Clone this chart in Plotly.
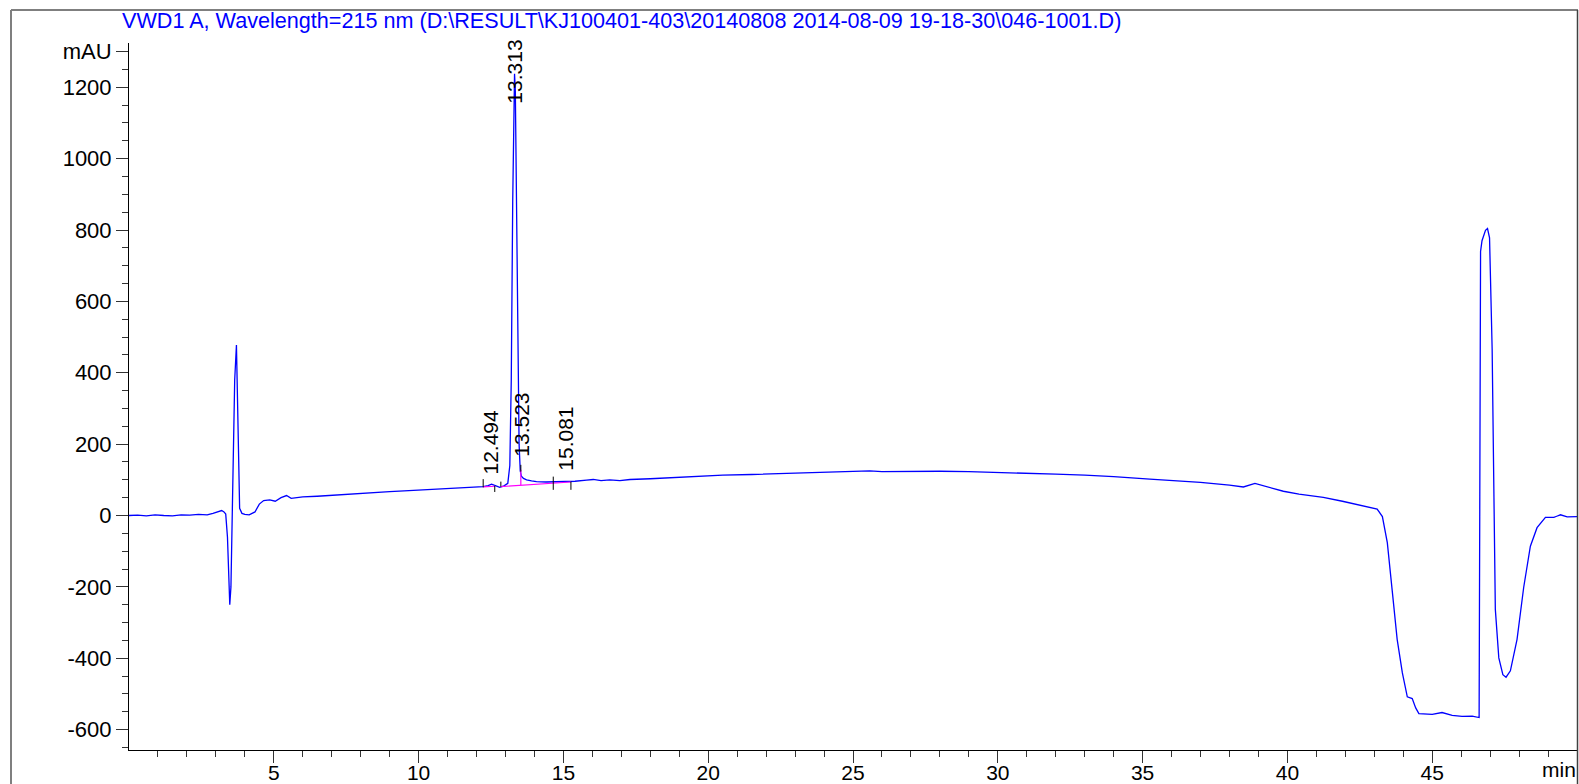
import plotly.graph_objects as go

# ---------------- data ----------------
time_min = [
    0.0, 0.3, 0.6, 0.9, 1.2, 1.5, 1.8, 2.1, 2.4, 2.7, 2.9, 3.1, 3.2, 3.28, 3.34,
    3.40, 3.44, 3.48, 3.52, 3.56, 3.60, 3.65, 3.71, 3.75, 3.78, 3.82, 3.90, 4.00,
    4.15, 4.35, 4.50, 4.65, 4.86, 5.05, 5.25, 5.44, 5.60, 5.80, 6.00, 6.5, 7.0,
    7.5, 8.0, 8.5, 9.0, 9.5, 10.0, 10.5, 11.0, 11.5, 12.0, 12.23, 12.40, 12.52,
    12.65, 12.80, 12.95, 13.08, 13.15, 13.20, 13.25, 13.29, 13.313, 13.34, 13.38,
    13.43, 13.47, 13.51, 13.55, 13.62, 13.73, 13.90, 14.07, 14.40, 14.65, 15.00,
    15.40, 15.80, 16.03, 16.30, 16.60, 16.95, 17.30, 18.0, 19.0, 19.7, 20.5, 21.5,
    22.5, 23.5, 24.32, 25.0, 25.58, 26.0, 27.0, 28.0, 29.0, 30.07, 31.0, 32.0,
    33.0, 33.7, 34.0, 35.25, 36.0, 37.0, 38.0, 38.48, 38.88, 39.2, 39.86, 40.4,
    41.24, 41.9, 42.47, 43.1, 43.28, 43.45, 43.62, 43.79, 43.97, 44.14, 44.31,
    44.43, 44.54, 45.0, 45.34, 45.69, 46.03, 46.38, 46.62, 46.67, 46.72, 46.84,
    46.91, 46.98, 47.07, 47.13, 47.18, 47.30, 47.44, 47.55, 47.70, 47.93, 48.16,
    48.39, 48.62, 48.91, 49.2, 49.3, 49.43, 49.66, 50.0,
]
signal_mau = [
    0, 1, -1, 2, 0, -1, 2, 1, 3, 2, 6, 10, 14, 10, 4,
    -60, -180, -250, -200, -50, 150, 380, 478, 330, 150, 20, 6, 3,
    2, 10, 32, 42, 44, 40, 50, 56, 48, 50, 52, 54, 57,
    60, 63, 65, 67, 69, 71, 74, 76, 78, 79, 81, 84, 88,
    84, 79, 83, 90, 140, 380, 880, 1180, 1238, 1190, 900,
    450, 200, 125, 110, 104, 100, 97, 95, 94, 94, 95,
    96, 99, 101, 98, 100, 98, 101, 103, 107, 111, 113, 115,
    117, 119, 121, 123, 125, 123, 124, 124, 123, 121, 119, 116,
    113, 111, 109, 102, 99, 93, 85, 80, 90, 83, 68, 60,
    51, 40, 30, 18, -3, -76, -211, -347, -441, -508, -513,
    -539, -555, -557, -552, -560, -563, -562, -566, 740, 770, 799,
    804, 778, 466, 49, -263, -399, -446, -453, -435, -347, -201,
    -86, -34, -5, -5, -2, 2, -4, -3,
]

peak_labels = ["12.494", "13.313", "13.523", "15.081"]
label_base_mau = [113, 1150, 161, 122]

marker_times = [12.23, 12.63, 12.84, 13.53, 14.65, 15.26]
marker_top = [102, 83, 95, 142, 109, 95]
marker_bottom = [79, 66, 81, 123, 72, 72]

baseline_times = [12.23, 12.63, None, 12.84, 13.53, 15.26, None, 13.53, 13.53]
baseline_vals = [80, 82, None, 81, 85, 94, None, 128, 85]

x_tick_vals = [5, 10, 15, 20, 25, 30, 35, 40, 45]
y_tick_vals = [-600, -400, -200, 0, 200, 400, 600, 800, 1000, 1200, 1300]
y_tick_text = ["-600", "-400", "-200", "0", "200", "400", "600", "800", "1000", "1200", "mAU"]

title_text = r"VWD1 A, Wavelength=215 nm (D:\RESULT\KJ100401-403\20140808 2014-08-09 19-18-30\046-1001.D)"

# ---------------- layout geometry ----------------
W_TOT, H_TOT = 1579, 784
ML, MR, MT, MB = 129, 2, 43, 34
PW = W_TOT - ML - MR
PH = H_TOT - MT - MB


def px_x(p):
    return (p - ML) / PW


def px_y(q):
    return (H_TOT - MB - q) / PH


FONT = "Liberation Sans, Arial, sans-serif"
TICK_SIZE = 22
XTICK_SIZE = 21

fig = go.Figure()

fig.add_trace(go.Scatter(
    x=time_min, y=signal_mau, mode="lines",
    line=dict(color="#0000FF", width=1.3),
    hoverinfo="skip", showlegend=False,
))

fig.add_trace(go.Scatter(
    x=baseline_times, y=baseline_vals, mode="lines",
    line=dict(color="#FF00FF", width=1.2),
    hoverinfo="skip", showlegend=False,
))

mx, my = [], []
for t, a, b in zip(marker_times, marker_top, marker_bottom):
    mx += [t, t, None]
    my += [a, b, None]
fig.add_trace(go.Scatter(
    x=mx, y=my, mode="lines",
    line=dict(color="#000000", width=1),
    hoverinfo="skip", showlegend=False,
))

annotations = []
for lab, base in zip(peak_labels, label_base_mau):
    annotations.append(dict(
        x=float(lab), y=base, xref="x", yref="y", text=lab, showarrow=False,
        textangle=-90, xanchor="center", yanchor="bottom",
        font=dict(family=FONT, size=21, color="#000000"),
        borderpad=0,
    ))

annotations.append(dict(
    x=px_x(121), y=px_y(7), xref="paper", yref="paper", text=title_text,
    showarrow=False, xanchor="left", yanchor="top",
    font=dict(family=FONT, size=21.6, color="#0000FF"), borderpad=0,
))

annotations.append(dict(
    x=1.0, y=px_y(757), xref="paper", yref="paper", text="min",
    showarrow=False, xanchor="right", yanchor="top",
    font=dict(family=FONT, size=XTICK_SIZE, color="#000000"), borderpad=0,
))

frame_color = "#7f7f7f"
shapes = [
    dict(type="line", xref="paper", yref="paper", x0=px_x(11), x1=px_x(11),
         y0=px_y(10), y1=px_y(790), line=dict(color=frame_color, width=2)),
    dict(type="line", xref="paper", yref="paper", x0=px_x(11), x1=px_x(1578),
         y0=px_y(10), y1=px_y(10), line=dict(color=frame_color, width=2)),
    dict(type="line", xref="paper", yref="paper", x0=px_x(1577.5), x1=px_x(1577.5),
         y0=px_y(10), y1=px_y(790), line=dict(color="#404040", width=1.5)),
]

fig.update_layout(
    width=W_TOT, height=H_TOT,
    margin=dict(l=ML, r=MR, t=MT, b=MB, pad=0, autoexpand=False),
    paper_bgcolor="white", plot_bgcolor="white",
    font=dict(family=FONT, size=TICK_SIZE, color="#000000"),
    annotations=annotations, shapes=shapes,
    showlegend=False,
)

fig.update_xaxes(
    range=[0, 50], tickmode="array", tickvals=x_tick_vals, automargin=False,
    ticks="outside", ticklen=12, tickwidth=1, tickcolor="#333333",
    ticklabelstandoff=-8,
    showline=True, linecolor="#000000", linewidth=1, mirror=False,
    showgrid=False, zeroline=False,
    tickfont=dict(family=FONT, size=XTICK_SIZE, color="#000000"),
    minor=dict(tickvals=list(range(1, 50)), ticks="outside", ticklen=6,
               tickwidth=1, tickcolor="#333333", showgrid=False),
)

fig.update_yaxes(
    range=[-657, 1324], tickmode="array", tickvals=y_tick_vals, ticktext=y_tick_text,
    automargin=False,
    ticks="outside", ticklen=12, tickwidth=1, tickcolor="#333333",
    showline=True, linecolor="#000000", linewidth=1, mirror=False,
    showgrid=False, zeroline=False,
    tickfont=dict(family=FONT, size=TICK_SIZE, color="#000000"),
    minor=dict(tickvals=list(range(-650, 1301, 50)), ticks="outside", ticklen=6,
               tickwidth=1, tickcolor="#333333", showgrid=False),
)

fig.write_html(
    "out.html",
    config=dict(displayModeBar=False),
    post_script="document.body.style.margin='0';document.body.style.overflow='hidden';",
)
